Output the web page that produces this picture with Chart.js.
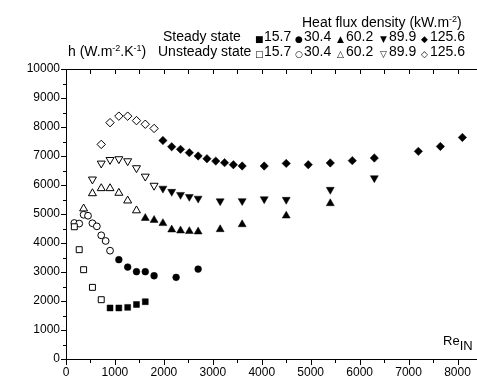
<!DOCTYPE html>
<html>
<head>
<meta charset="utf-8">
<script src="https://cdn.jsdelivr.net/npm/chart.js@4"></script>
<style>
  body { margin: 0; background: #fff; }
  #wrap { position: relative; width: 477px; height: 383px; font-family: "Liberation Sans", Arial, sans-serif; color: #000; }
  .lbl { position: absolute; font-size: 14px; line-height: 14px; white-space: nowrap; }
  .sym { font-family: "DejaVu Sans", sans-serif; font-size: 9px; }
  .ax { position: absolute; background: #000; z-index: 5; }
  sup { font-size: 9px; vertical-align: 5px; line-height: 0; }
  sub { font-size: 13px; vertical-align: -5px; line-height: 0; }
</style>
</head>
<body>
<div id="wrap">
  <canvas id="chart" width="477" height="383"></canvas>
  <div class="lbl" style="left:302px; top:15px;">Heat flux density (kW.m<sup>-2</sup>)</div>
  <div class="lbl" style="left:163px; top:29px;">Steady state</div>
  <div class="lbl" style="left:68px; top:44px;">h (W.m<sup>-2</sup>.K<sup>-1</sup>)</div>
  <div class="lbl" style="left:158px; top:44px;">Unsteady state</div>
  <div id="legend"></div>
  <div class="lbl" style="left:443px; top:334px; font-size:13px;">Re<sub>IN</sub></div>
</div>
<script>
// ---- data (Re_IN, h) ----
const reUnsteady15 = [170, 270, 360, 540, 720]
const hUnsteady15 = [4560, 3770, 3080, 2470, 2045]
const reSteady15 = [900, 1080, 1260, 1440, 1620]
const hSteady15 = [1760, 1760, 1780, 1880, 1975]

const reUnsteady30 = [170, 270, 360, 450, 540, 630, 720, 810, 900]
const hUnsteady30 = [4690, 4670, 4975, 4940, 4680, 4575, 4265, 4070, 3735]
const reSteady30 = [1080, 1260, 1440, 1620, 1800, 2250, 2700]
const hSteady30 = [3425, 3170, 3010, 3010, 2870, 2815, 3100]

const reUnsteady60 = [360, 540, 720, 900, 1080, 1260, 1440]
const hUnsteady60 = [5185, 5710, 5885, 5885, 5725, 5460, 5120]
const reSteady60 = [1620, 1800, 1980, 2160, 2340, 2520, 2700, 3150, 3600, 4500, 5400]
const hSteady60 = [4855, 4790, 4680, 4460, 4425, 4405, 4390, 4470, 4640, 4940, 5365]

const reUnsteady90 = [540, 720, 900, 1080, 1260, 1440, 1620, 1800]
const hUnsteady90 = [6195, 6745, 6870, 6895, 6825, 6585, 6295, 5980]
const reSteady90 = [1980, 2160, 2340, 2520, 2700, 3150, 3600, 4050, 4500, 5400, 6300]
const hSteady90 = [5880, 5770, 5665, 5595, 5535, 5445, 5450, 5515, 5495, 5840, 6240]

const reUnsteady125 = [720, 900, 1080, 1260, 1440, 1620, 1800]
const hUnsteady125 = [7400, 8150, 8375, 8375, 8220, 8095, 7950]
const reSteady125 = [1980, 2160, 2340, 2520, 2700, 2880, 3060, 3240, 3420, 3600, 4050, 4500, 4950, 5400, 5850, 6300, 7200, 7650, 8100]
const hSteady125 = [7535, 7320, 7230, 7115, 7000, 6905, 6825, 6770, 6700, 6655, 6655, 6745, 6700, 6760, 6840, 6930, 7160, 7330, 7640]

const fluxLabels = ['15.7', '30.4', '60.2', '89.9', '125.6']
const xTickValues = [0, 1000, 2000, 3000, 4000, 5000, 6000, 7000, 8000]
const yTickValues = [0, 1000, 2000, 3000, 4000, 5000, 6000, 7000, 8000, 9000, 10000]

// legend layout (symbol x, text x) per flux column
const legendCols = [
  {sym: 255, txt: 264},
  {sym: 295, txt: 304},
  {sym: 337, txt: 346},
  {sym: 380, txt: 389},
  {sym: 421, txt: 430}
]
const steadySymbols = ['■', '●', '▲', '▼', '◆']
const unsteadySymbols = ['□', '○', '△', '▽', '◇']

function pts(xv, yv){
  return xv.map((x, i) => ({x: x, y: yv[i]}))
}

// marker shape per flux column
const markers = [
  {style: 'rect', radius: 4.2, rotation: 0},
  {style: 'circle', radius: 3.4, rotation: 0},
  {style: 'triangle', radius: 4.6, rotation: 0},
  {style: 'triangle', radius: 4.6, rotation: 180},
  {style: 'rectRot', radius: 4.2, rotation: 0}
]

function makeSet(label, data, m, filled){
  return {
    label: label,
    data: data,
    showLine: false,
    pointStyle: m.style,
    pointRadius: m.radius,
    pointHoverRadius: m.radius,
    rotation: m.rotation,
    backgroundColor: filled ? '#000' : '#fff',
    borderColor: '#000',
    borderWidth: filled ? 0.5 : 1
  }
}

const datasets = [
  makeSet('Unsteady 15.7', pts(reUnsteady15, hUnsteady15), markers[0], false),
  makeSet('Steady 15.7', pts(reSteady15, hSteady15), markers[0], true),
  makeSet('Unsteady 30.4', pts(reUnsteady30, hUnsteady30), markers[1], false),
  makeSet('Steady 30.4', pts(reSteady30, hSteady30), markers[1], true),
  makeSet('Unsteady 60.2', pts(reUnsteady60, hUnsteady60), markers[2], false),
  makeSet('Steady 60.2', pts(reSteady60, hSteady60), markers[2], true),
  makeSet('Unsteady 89.9', pts(reUnsteady90, hUnsteady90), markers[3], false),
  makeSet('Steady 89.9', pts(reSteady90, hSteady90), markers[3], true),
  makeSet('Unsteady 125.6', pts(reUnsteady125, hUnsteady125), markers[4], false),
  makeSet('Steady 125.6', pts(reSteady125, hSteady125), markers[4], true)
]

const chart = new Chart(document.getElementById('chart'), {
  type: 'scatter',
  data: { datasets: datasets },
  options: {
    responsive: false,
    animation: false,
    layout: { padding: { top: 69, right: 0, left: 0, bottom: 0 } },
    plugins: { legend: { display: false }, tooltip: { enabled: false } },
    scales: {
      x: {
        type: 'linear', min: 0, max: 8200,
        grid: { display: false, drawTicks: false }, border: { display: false },
        ticks: { maxRotation: 0, autoSkip: false, padding: 6, color: '#000',
          font: { family: 'Liberation Sans, Arial', size: 12 }, callback: v => String(v) },
        afterBuildTicks: s => { s.ticks = xTickValues.map(v => ({value: v})) },
        afterFit: s => { s.height = 24 }
      },
      y: {
        min: 0, max: 10000,
        grid: { display: false, drawTicks: false }, border: { display: false },
        ticks: { autoSkip: false, padding: 6, color: '#000',
          font: { family: 'Liberation Sans, Arial', size: 12 }, callback: v => String(v) },
        afterBuildTicks: s => { s.ticks = yTickValues.map(v => ({value: v})) },
        afterFit: s => { s.width = 66 }
      }
    }
  }
})

// axis lines, tick marks (major / minor) and top frame line, placed from the chart scales
const wrap = document.getElementById('wrap')
function bar(x, y, w, h){
  const d = document.createElement('div')
  d.className = 'ax'
  d.style.left = x + 'px'
  d.style.top = y + 'px'
  d.style.width = w + 'px'
  d.style.height = h + 'px'
  wrap.appendChild(d)
}
function drawFrame(){
  const a = chart.chartArea
  const sx = chart.scales.x, sy = chart.scales.y
  const L = Math.round(a.left), T = Math.round(a.top), B = Math.round(a.bottom), R = chart.width
  bar(L, T, R - L, 1)       // top
  bar(L, B, R - L, 1)       // bottom axis
  bar(L, T, 1, B - T + 1)   // left axis
  for(let v = 0; v <= sx.max; v += 500){
    const px = Math.round(sx.getPixelForValue(v))
    const len = v % 1000 === 0 ? 5 : 3
    bar(px, B, 1, len + 1)
    bar(px, T, 1, 5)
  }
  for(let v = 0; v <= sy.max; v += 500){
    const py = Math.round(sy.getPixelForValue(v))
    const len = v % 1000 === 0 ? 5 : 3
    bar(L - len, py, len, 1)
  }
}
drawFrame()

// legend rows: symbols + flux values
const legend = document.getElementById('legend')
function legendRow(symbols, top){
  legendCols.forEach((c, i) => {
    const s = document.createElement('div')
    s.className = 'lbl sym'
    s.style.left = c.sym + 'px'
    s.style.top = (top + 3) + 'px'
    s.textContent = symbols[i]
    legend.appendChild(s)
    const t = document.createElement('div')
    t.className = 'lbl'
    t.style.left = c.txt + 'px'
    t.style.top = top + 'px'
    t.textContent = fluxLabels[i]
    legend.appendChild(t)
  })
}
legendRow(steadySymbols, 29)
legendRow(unsteadySymbols, 44)
</script>
</body>
</html>
